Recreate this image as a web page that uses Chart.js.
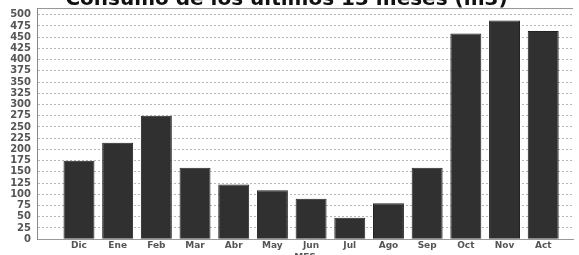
<!DOCTYPE html>
<html>
<head>
<meta charset="utf-8">
<script src="https://cdn.jsdelivr.net/npm/chart.js@4"></script>
<style>
    html, body { margin: 0; padding: 0; background: #fff; overflow: hidden; }
    body { width: 579px; height: 255px; position: relative; }
    .chart-box { position: absolute; left: 0; top: -20px; width: 579px; height: 283px; }
</style>
</head>
<body>
<div class="chart-box"><canvas id="consumoChart"></canvas></div>
<script>
// Data
const meses = ['Dic', 'Ene', 'Feb', 'Mar', 'Abr', 'May', 'Jun', 'Jul', 'Ago', 'Sep', 'Oct', 'Nov', 'Act'];
const consumo = [175, 215, 275, 159, 122, 109, 90, 48, 80, 159, 458, 487, 464];
const yTicks = [0, 25, 50, 75, 100, 125, 150, 175, 200, 225, 250, 275, 300, 325, 350, 375, 400, 425, 450, 475, 500];
const yMax = 515;

document.addEventListener("DOMContentLoaded", function () {
    const ctx = document.getElementById('consumoChart').getContext('2d');

    new Chart(ctx, {
        type: 'bar',
        data: {
            datasets: [{
                label: 'Consumo',
                data: consumo.map((v, i) => ({ x: i, y: v })),
                backgroundColor: '#303030',
                borderColor: '#222',
                borderWidth: 1,
                barPercentage: 0.8,
                categoryPercentage: 1
            }]
        },
        options: {
            responsive: true,
            maintainAspectRatio: false,
            animation: false,
            layout: { padding: { left: 0, right: 6, top: 0, bottom: 0 } },
            plugins: {
                legend: { display: false },
                tooltip: { enabled: false },
                title: {
                    display: true,
                    text: 'Consumo de los últimos 13 meses (m3)',
                    color: '#111',
                    font: { family: 'DejaVu Sans', size: 20, weight: 'bold', lineHeight: 1 },
                    padding: { top: 10, bottom: -2 }
                }
            },
            scales: {
                x: {
                    type: 'linear',
                    offset: false,
                    min: -1.085,
                    max: 12.77,
                    afterBuildTicks: function (scale) {
                        scale.ticks = meses.map((m, i) => ({ value: i }));
                    },
                    ticks: {
                        autoSkip: false,
                        maxRotation: 0,
                        padding: 2,
                        color: '#555',
                        font: { family: 'DejaVu Sans', size: 9, weight: 'bold', lineHeight: 1 },
                        callback: function (value) {
                            return meses[value] !== undefined ? meses[value] : '';
                        }
                    },
                    grid: { display: false, drawTicks: false },
                    border: { display: true, color: '#999', width: 1 },
                    title: {
                        display: true,
                        text: 'MES',
                        color: '#555',
                        font: { family: 'DejaVu Sans', size: 9, weight: 'bold' },
                        padding: { top: 0, bottom: 0 }
                    }
                },
                y: {
                    min: 0,
                    max: yMax,
                    afterFit: function (scale) {
                        scale.width = 37;
                    },
                    afterBuildTicks: function (scale) {
                        scale.ticks = yTicks.concat([yMax]).map(v => ({ value: v }));
                    },
                    ticks: {
                        autoSkip: false,
                        padding: 6,
                        color: '#555',
                        font: { family: 'DejaVu Sans', size: 10, weight: 'bold' },
                        callback: function (value) {
                            return value === yMax ? '' : value;
                        }
                    },
                    grid: {
                        drawTicks: false,
                        color: function (c) {
                            return c.tick && c.tick.value === yMax ? '#999' : '#b5b5b5';
                        },
                        lineWidth: 1
                    },
                    border: {
                        display: true,
                        color: '#888',
                        width: 1,
                        dash: function (c) {
                            return c.tick && c.tick.value === yMax ? [] : [2, 2];
                        }
                    }
                }
            }
        }
    });
});
</script>
</body>
</html>
